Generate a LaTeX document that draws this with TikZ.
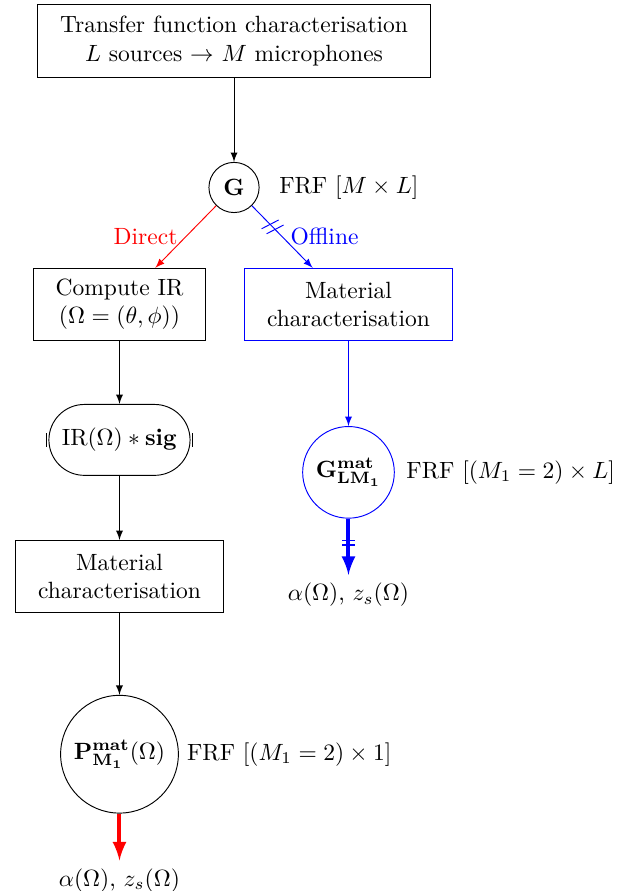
\documentclass[tikz,border=0pt]{standalone}
\usepackage{amsmath,amssymb}
\usepackage{tikz}
\usetikzlibrary{shapes,shapes.misc,arrows,positioning,calc,decorations.markings}

\begin{document}
\begin{tikzpicture}[
    block/.style={rectangle, draw, align=center, inner xsep=9.5pt, minimum height=1.08cm},
    junction/.style={circle, draw, inner sep=1pt},
    conv/.style={rounded rectangle, draw, minimum width=2.18cm, minimum height=1.06cm, inner xsep=1pt},
    result/.style={line width=1.7pt, ->},
    twobars/.style={postaction={decorate, decoration={markings,
        mark=at position #1 with {\draw[-, line width=0.5pt] (0,-2.7pt) -- (0,2.7pt);
                                  \draw[-, line width=0.5pt] (1.8pt,-2.7pt) -- (1.8pt,2.7pt);}}}},
    slashes/.style={postaction={decorate, decoration={markings,
        mark=at position #1 with {\draw[-, line width=0.4pt] (-1.2pt,-3.9pt) -- (1.2pt,3.9pt);
                                  \draw[-, line width=0.4pt] (1.8pt,-3.9pt) -- (4.2pt,3.9pt);}}}},
    auto,
    >=latex
]
    \useasboundingbox (0,0) rectangle (9.477,-13.318);

    \node[block] (tf) at (3.498,-0.613) {Transfer function characterisation\\$L$ sources $\rightarrow$ $M$ microphones};
    \node[junction, minimum size=0.75cm, below=1.26cm of tf] (g) {$\mathbf{G}$};
    \node[right=0.17cm of g] (frfg) {FRF $[M \times L]$};

    % direct branch
    \node[block, below=0.82cm of g, xshift=-1.712cm] (ir) {Compute IR\\$(\Omega = (\theta, \phi))$};
    \node[conv, below=0.94cm of ir] (conv) {$\mathrm{IR}(\Omega) * \mathbf{sig}$};
    \node[block, below=0.96cm of conv] (matd) {Material\\characterisation};
    \node[junction, minimum size=1.76cm, below=1.22cm of matd] (p) {$\mathbf{P^{mat}_{M_1}}(\Omega)$};
    \node[right=0cm of p] (frfp) {FRF $[(M_1 = 2) \times 1]$};
    \node[below=0.70cm of p] (outd) {$\alpha(\Omega)$, $z_s(\Omega)$};

    % offline branch
    \node[block, draw=blue, below=0.82cm of g, xshift=1.711cm] (mato) {Material\\characterisation};
    \node[junction, draw=blue, minimum size=1.37cm, below=1.27cm of mato] (gl) {$\mathbf{G^{mat}_{LM_1}}$};
    \node[right=0.05cm of gl] (frfgl) {FRF $[(M_1 = 2) \times L]$};
    \node[below=0.84cm of gl] (outo) {$\alpha(\Omega)$, $z_s(\Omega)$};

    \draw[->] (tf) -- (g);
    \draw[->, red] (g) -- node[left] {Direct} (ir);
    \draw[->, blue, slashes=0.3] (g) -- node[right] {Offline} (mato);
    \draw[->] (ir) -- (conv);
    \draw[->] (conv) -- (matd);
    \draw[->] (matd) -- (p);
    \draw[result, red] (p) -- (outd);
    \draw[->, blue] (mato) -- (gl);
    \draw[result, blue, twobars=9.4pt] (gl) -- (outo);

    % side marks of the convolution node
    \draw ([xshift=-1pt]conv.west) ++(0,-0.1) -- ++(0,0.2);
    \draw ([xshift=1pt]conv.east) ++(0,-0.1) -- ++(0,0.2);
\end{tikzpicture}
\end{document}
